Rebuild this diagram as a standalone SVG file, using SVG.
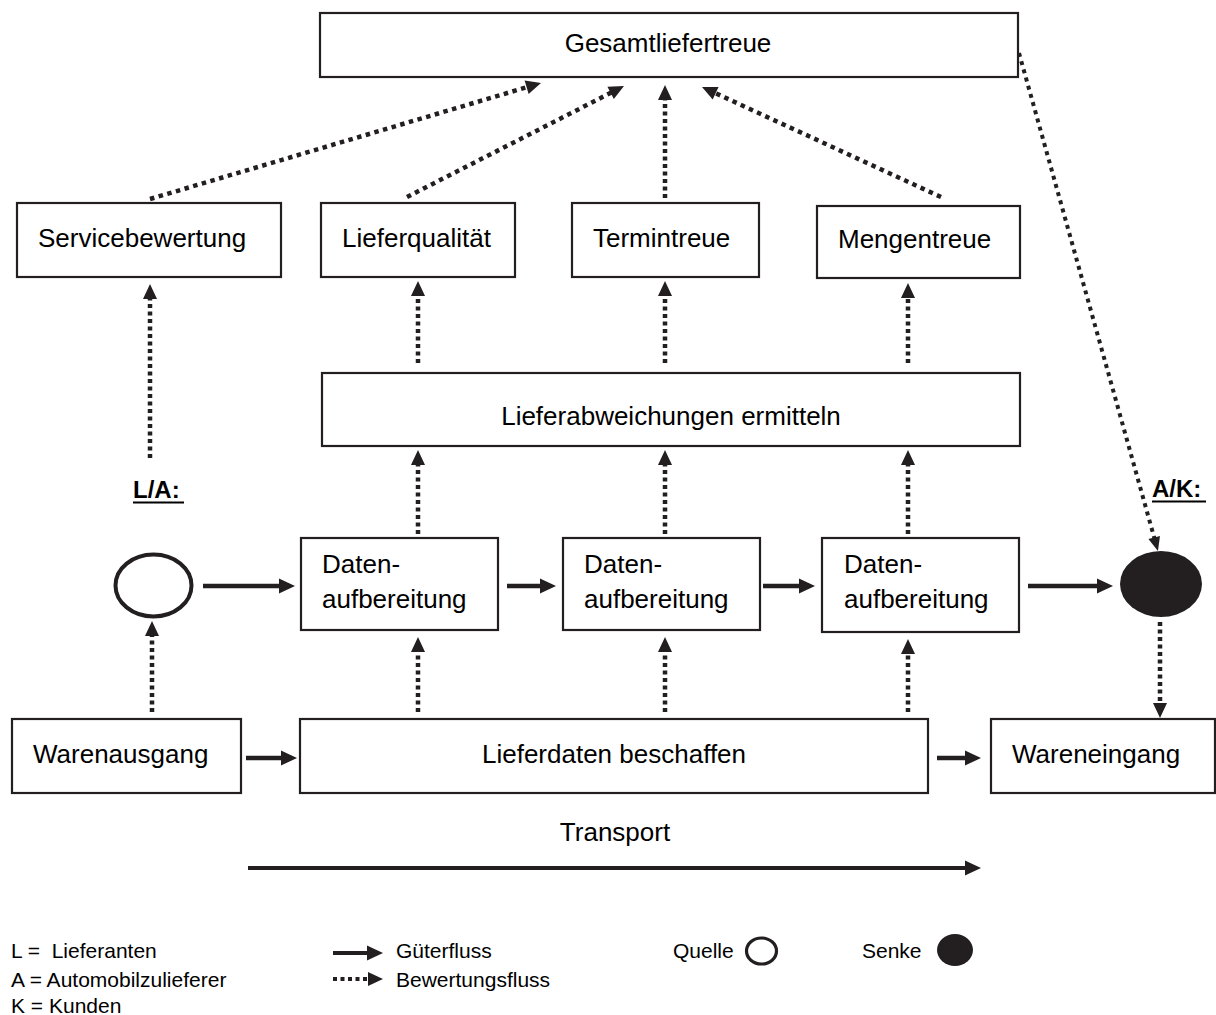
<svg xmlns="http://www.w3.org/2000/svg" width="1216" height="1015" viewBox="0 0 1216 1015">
<defs>
<style>
.box{fill:#fff;stroke:#231f20;stroke-width:2.2}
.t{font-family:"Liberation Sans",Arial,sans-serif;font-size:26px;fill:#000}
.lg{font-family:"Liberation Sans",Arial,sans-serif;font-size:21px;fill:#000;white-space:pre}
.lab{font-family:"Liberation Sans",Arial,sans-serif;font-size:24px;font-weight:bold;fill:#000}
.solid{stroke:#231f20;stroke-width:4.5;fill:none;marker-end:url(#ah)}
.dot{stroke:#231f20;stroke-width:4.5;fill:none;stroke-dasharray:4 3.5;marker-end:url(#dh)}
.dotd{stroke:#231f20;stroke-width:4.5;fill:none;stroke-dasharray:4.5 4.5;marker-end:url(#dh)}
.dots{stroke:#231f20;stroke-width:4;fill:none;stroke-dasharray:4 4.5;marker-end:url(#sh)}
</style>
<marker id="ah" markerUnits="userSpaceOnUse" markerWidth="16" markerHeight="15" refX="4" refY="7.5" orient="auto" overflow="visible"><path d="M0,0 L16,7.5 L0,15 z" fill="#231f20"/></marker>
<marker id="dh" markerUnits="userSpaceOnUse" markerWidth="15" markerHeight="14" refX="3" refY="7" orient="auto" overflow="visible"><path d="M0,0 L15,7 L0,14 z" fill="#231f20"/></marker>
<marker id="sh" markerUnits="userSpaceOnUse" markerWidth="14" markerHeight="12" refX="3" refY="6" orient="auto" overflow="visible"><path d="M0,0 L14,6 L0,12 z" fill="#231f20"/></marker>
</defs>
<rect width="1216" height="1015" fill="#fff"/>

<g id="connectors">
<line class="dotd" x1="150" y1="199" x2="529.5" y2="86.4"/>
<line class="dotd" x1="407" y1="197" x2="613.3" y2="91.5"/>
<line class="dot" x1="665" y1="198" x2="665" y2="97"/>
<line class="dotd" x1="941" y1="197" x2="712.9" y2="92"/>
<line class="dots" x1="1019" y1="53" x2="1155" y2="540.4"/>
<line class="dot" x1="418" y1="363" x2="418" y2="293"/>
<line class="dot" x1="665" y1="363" x2="665" y2="293"/>
<line class="dot" x1="908" y1="363" x2="908" y2="295"/>
<line class="dot" x1="150" y1="458" x2="150" y2="296"/>
<line class="dot" x1="418" y1="534" x2="418" y2="462"/>
<line class="dot" x1="665" y1="534" x2="665" y2="462"/>
<line class="dot" x1="908" y1="534" x2="908" y2="462"/>
<line class="dot" x1="152" y1="712" x2="152" y2="633"/>
<line class="dot" x1="418" y1="712" x2="418" y2="649"/>
<line class="dot" x1="665" y1="712" x2="665" y2="649"/>
<line class="dot" x1="908" y1="712" x2="908" y2="651"/>
<line class="dot" x1="1160" y1="622" x2="1160" y2="706"/>
<line class="solid" x1="203" y1="586" x2="283" y2="586"/>
<line class="solid" x1="507" y1="586" x2="544" y2="586"/>
<line class="solid" x1="763" y1="586" x2="803" y2="586"/>
<line class="solid" x1="1028" y1="586" x2="1101" y2="586"/>
<line class="solid" x1="246" y1="758" x2="285" y2="758"/>
<line class="solid" x1="937" y1="758" x2="969" y2="758"/>
<line class="solid" x1="248" y1="868" x2="969" y2="868" style="stroke-width:4"/>
</g>

<g id="gesamt"><rect class="box" x="320" y="13" width="698" height="64"/><text class="t" x="668" y="52" text-anchor="middle">Gesamtliefertreue</text></g>
<g id="service"><rect class="box" x="17" y="203" width="264" height="74"/><text class="t" x="38" y="247">Servicebewertung</text></g>
<g id="lieferqualitaet"><rect class="box" x="321" y="203" width="194" height="74"/><text class="t" x="342" y="247">Lieferqualität</text></g>
<g id="termintreue"><rect class="box" x="572" y="203" width="187" height="74"/><text class="t" x="593" y="247">Termintreue</text></g>
<g id="mengentreue"><rect class="box" x="817" y="206" width="203" height="72"/><text class="t" x="838" y="248">Mengentreue</text></g>
<g id="lieferabweichungen"><rect class="box" x="322" y="373" width="698" height="73"/><text class="t" x="671" y="425" text-anchor="middle">Lieferabweichungen ermitteln</text></g>
<g id="la"><text class="lab" x="133" y="498">L/A:</text><line x1="133" y1="502.5" x2="184" y2="502.5" stroke="#000" stroke-width="2"/></g>
<g id="ak"><text class="lab" x="1152" y="497">A/K:</text><line x1="1152" y1="501.5" x2="1206" y2="501.5" stroke="#000" stroke-width="2"/></g>
<g id="quelle"><ellipse cx="153.5" cy="585.5" rx="38" ry="31" fill="#fff" stroke="#231f20" stroke-width="4"/></g>
<g id="senke"><ellipse cx="1161" cy="584" rx="41" ry="33" fill="#231f20"/></g>
<g id="daten1"><rect class="box" x="301" y="538" width="197" height="92"/><text class="t" x="322" y="573">Daten-</text><text class="t" x="322" y="608">aufbereitung</text></g>
<g id="daten2"><rect class="box" x="563" y="538" width="197" height="92"/><text class="t" x="584" y="573">Daten-</text><text class="t" x="584" y="608">aufbereitung</text></g>
<g id="daten3"><rect class="box" x="822" y="538" width="197" height="94"/><text class="t" x="844" y="573">Daten-</text><text class="t" x="844" y="608">aufbereitung</text></g>
<g id="warenausgang"><rect class="box" x="12" y="719" width="229" height="74"/><text class="t" x="33" y="763">Warenausgang</text></g>
<g id="lieferdaten"><rect class="box" x="300" y="719" width="628" height="74"/><text class="t" x="614" y="763" text-anchor="middle">Lieferdaten beschaffen</text></g>
<g id="wareneingang"><rect class="box" x="991" y="719" width="224" height="74"/><text class="t" x="1012" y="763">Wareneingang</text></g>
<g id="transport"><text class="t" x="615" y="841" text-anchor="middle">Transport</text></g>

<g id="legend">
<text class="lg" x="11" y="958" xml:space="preserve">L =  Lieferanten</text>
<text class="lg" x="11" y="987">A = Automobilzulieferer</text>
<text class="lg" x="11" y="1013">K = Kunden</text>
<line class="solid" x1="333" y1="953" x2="371" y2="953" style="stroke-width:4"/>
<text class="lg" x="396" y="958">Güterfluss</text>
<line class="dot" x1="333" y1="979" x2="371" y2="979" style="stroke-width:4"/>
<text class="lg" x="396" y="987">Bewertungsfluss</text>
<text class="lg" x="673" y="958">Quelle</text>
<ellipse cx="761.5" cy="951" rx="15" ry="13" fill="#fff" stroke="#231f20" stroke-width="3.2"/>
<text class="lg" x="862" y="958">Senke</text>
<ellipse cx="955" cy="950" rx="18" ry="16" fill="#231f20"/>
</g>
</svg>
